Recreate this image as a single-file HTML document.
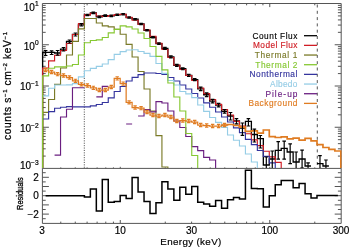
<!DOCTYPE html><html><head><meta charset="utf-8"><style>html,body{margin:0;padding:0;background:#fff;width:350px;height:250px;overflow:hidden}svg{display:block;will-change:transform}text{font-family:"Liberation Sans",sans-serif}</style></head><body>
<svg width="350" height="250" viewBox="0 0 350 250">
<rect width="350" height="250" fill="#fff"/>
<defs><clipPath id="cp"><rect x="41.9" y="3.5" width="299.8" height="164.5"/></clipPath>
<clipPath id="cr"><rect x="42.4" y="168.4" width="298.8" height="55.0"/></clipPath></defs>
<path d="M42.40 3.50 H341.20 V168.40 H42.40 Z M42.40 168.40 V223.40 H341.20 V168.40" fill="none" stroke="#555" stroke-width="1.00" stroke-linejoin="miter" stroke-linecap="butt" />
<path d="M60.78 3.50 v1.8 M60.78 168.40 v-1.0 M60.78 223.40 v-1.8 M75.27 3.50 v1.8 M75.27 168.40 v-1.0 M75.27 223.40 v-1.8 M87.10 3.50 v1.8 M87.10 168.40 v-1.0 M87.10 223.40 v-1.8 M97.11 3.50 v1.8 M97.11 168.40 v-1.0 M97.11 223.40 v-1.8 M105.78 3.50 v1.8 M105.78 168.40 v-1.0 M105.78 223.40 v-1.8 M113.43 3.50 v1.8 M113.43 168.40 v-1.0 M113.43 223.40 v-1.8 M120.27 3.50 v3.6 M120.27 168.40 v-1.6 M120.27 223.40 v-3.4 M165.27 3.50 v1.8 M165.27 168.40 v-1.0 M165.27 223.40 v-1.8 M191.60 3.50 v1.8 M191.60 168.40 v-1.0 M191.60 223.40 v-1.8 M210.28 3.50 v1.8 M210.28 168.40 v-1.0 M210.28 223.40 v-1.8 M224.77 3.50 v1.8 M224.77 168.40 v-1.0 M224.77 223.40 v-1.8 M236.60 3.50 v1.8 M236.60 168.40 v-1.0 M236.60 223.40 v-1.8 M246.61 3.50 v1.8 M246.61 168.40 v-1.0 M246.61 223.40 v-1.8 M255.28 3.50 v1.8 M255.28 168.40 v-1.0 M255.28 223.40 v-1.8 M262.93 3.50 v1.8 M262.93 168.40 v-1.0 M262.93 223.40 v-1.8 M269.77 3.50 v3.6 M269.77 168.40 v-1.6 M269.77 223.40 v-3.4 M314.77 3.50 v1.8 M314.77 168.40 v-1.0 M314.77 223.40 v-1.8 M42.40 156.08 h3.3 M341.20 156.08 h-3.3 M42.40 148.82 h3.3 M341.20 148.82 h-3.3 M42.40 143.67 h3.3 M341.20 143.67 h-3.3 M42.40 139.67 h3.3 M341.20 139.67 h-3.3 M42.40 136.40 h3.3 M341.20 136.40 h-3.3 M42.40 133.64 h3.3 M341.20 133.64 h-3.3 M42.40 131.25 h3.3 M341.20 131.25 h-3.3 M42.40 129.14 h3.3 M341.20 129.14 h-3.3 M42.40 127.25 h6.5 M341.20 127.25 h-6.5 M42.40 114.83 h3.3 M341.20 114.83 h-3.3 M42.40 107.57 h3.3 M341.20 107.57 h-3.3 M42.40 102.42 h3.3 M341.20 102.42 h-3.3 M42.40 98.42 h3.3 M341.20 98.42 h-3.3 M42.40 95.15 h3.3 M341.20 95.15 h-3.3 M42.40 92.39 h3.3 M341.20 92.39 h-3.3 M42.40 90.00 h3.3 M341.20 90.00 h-3.3 M42.40 87.89 h3.3 M341.20 87.89 h-3.3 M42.40 86.00 h6.5 M341.20 86.00 h-6.5 M42.40 73.58 h3.3 M341.20 73.58 h-3.3 M42.40 66.32 h3.3 M341.20 66.32 h-3.3 M42.40 61.17 h3.3 M341.20 61.17 h-3.3 M42.40 57.17 h3.3 M341.20 57.17 h-3.3 M42.40 53.90 h3.3 M341.20 53.90 h-3.3 M42.40 51.14 h3.3 M341.20 51.14 h-3.3 M42.40 48.75 h3.3 M341.20 48.75 h-3.3 M42.40 46.64 h3.3 M341.20 46.64 h-3.3 M42.40 44.75 h6.5 M341.20 44.75 h-6.5 M42.40 32.33 h3.3 M341.20 32.33 h-3.3 M42.40 25.07 h3.3 M341.20 25.07 h-3.3 M42.40 19.92 h3.3 M341.20 19.92 h-3.3 M42.40 15.92 h3.3 M341.20 15.92 h-3.3 M42.40 12.65 h3.3 M341.20 12.65 h-3.3 M42.40 9.89 h3.3 M341.20 9.89 h-3.3 M42.40 7.50 h3.3 M341.20 7.50 h-3.3 M42.40 5.39 h3.3 M341.20 5.39 h-3.3 M42.40 218.70 h3.3 M341.20 218.70 h-3.3 M42.40 214.10 h6.5 M341.20 214.10 h-6.5 M42.40 209.50 h3.3 M341.20 209.50 h-3.3 M42.40 204.90 h6.5 M341.20 204.90 h-6.5 M42.40 200.30 h3.3 M341.20 200.30 h-3.3 M42.40 195.70 h6.5 M341.20 195.70 h-6.5 M42.40 191.10 h3.3 M341.20 191.10 h-3.3 M42.40 186.50 h6.5 M341.20 186.50 h-6.5 M42.40 181.90 h3.3 M341.20 181.90 h-3.3 M42.40 177.30 h6.5 M341.20 177.30 h-6.5 M42.40 172.70 h3.3 M341.20 172.70 h-3.3 " fill="none" stroke="#555" stroke-width="1.00" stroke-linejoin="miter" stroke-linecap="butt" />
<g clip-path="url(#cp)">
<path d="M84.30 3.5 V168.4" fill="none" stroke="#555" stroke-width="1.00" stroke-linejoin="miter" stroke-linecap="butt" stroke-dasharray="1.1 1.3"/>
<path d="M317.29 4.5 V168.4" fill="none" stroke="#555" stroke-width="1.00" stroke-linejoin="miter" stroke-linecap="butt" stroke-dasharray="3 3.3"/>
<path d="M42.65 200.00 V52.40 H48.61 V52.40 H54.58 V53.00 H60.54 V49.20 H66.51 V41.40 H72.47 V34.40 H78.43 V24.80 H84.40 V14.97 H90.36 V12.84 H96.33 V16.83 H102.29 V15.61 H108.25 V15.85 H114.22 V14.82 H120.18 V14.29 H126.15 V17.56 H132.11 V19.21 H138.07 V23.99 H144.04 V30.32 H150.00 V37.27 H155.97 V43.58 H161.93 V48.29 H167.89 V56.92 H173.86 V65.40 H179.82 V68.76 H185.79 V75.38 H191.75 V79.71 H197.71 V88.92 H203.68 V94.76 H209.64 V101.10 H215.61 V105.08 H221.57 V111.37 H227.53 V116.00 H233.50 V120.80 H239.46 V128.00 H245.43 V121.40 H251.39 V134.50 H257.35 V138.70 H263.32 V165.00 H269.28 V159.00 H275.25 V150.40 H281.21 V148.40 H287.17 V152.00 H293.14 V162.00 H299.10 V159.00 H305.07 V166.00 H311.03" fill="none" stroke="#000000" stroke-width="1.30" stroke-linejoin="miter" stroke-linecap="butt" />
<path d="M316.99 163.70 H322.96 V166.00 H328.92" fill="none" stroke="#000000" stroke-width="1.30" stroke-linejoin="miter" stroke-linecap="butt" />
<path d="M42.65 200.00 V68.00 H48.61 V60.80 H54.58 V55.20 H60.54 V50.50 H66.51 V43.50 H72.47 V34.50 H78.43 V23.60 H84.40 V14.90 H90.36 V13.20 H96.33 V16.00 H102.29 V16.50 H108.25 V15.50 H114.22 V14.50 H120.18 V14.30 H126.15 V17.40 H132.11 V20.20 H138.07 V24.20 H144.04 V30.00 H150.00 V36.30 H155.97 V43.20 H161.93 V49.50 H167.89 V57.50 H173.86 V65.00 H179.82 V69.50 H185.79 V75.50 H191.75 V80.50 H197.71 V88.00 H203.68 V93.60 H209.64 V99.60 H215.61 V104.40 H221.57 V109.60 H227.53 V115.00 H233.50 V121.40 H239.46 V126.00 H245.43 V133.70 H251.39 V139.80 H257.35 V145.60 H263.32 V151.20 H269.28 V156.80 H275.25 V162.40 H281.21 V200.00 H287.17 V200.00 H293.14 V200.00 H299.10 V200.00 H305.07 V200.00 H311.03 V200.00 H316.99 V200.00 H322.96 V200.00 H328.92 V200.00 H334.89 V200.00 H340.85" fill="none" stroke="#d01c24" stroke-width="1.15" stroke-linejoin="miter" stroke-linecap="butt" />
<path d="M42.65 200.00 V112.30 H48.61 V99.50 H54.58 V84.30 H60.54 V68.00 H66.51 V55.00 H72.47 V41.40 H78.43 V28.80 H84.40 V18.50 H90.36 V18.50 H96.33 V23.00 H102.29 V25.80 H108.25 V26.80 H114.22 V29.40 H120.18 V34.20 H126.15 V44.40 H132.11 V57.00 H138.07 V71.50 H144.04 V89.00 H150.00 V111.00 H155.97 V135.60 H161.93 V167.00 H167.89 V200.00 H173.86 V200.00 H179.82 V200.00 H185.79 V200.00 H191.75 V200.00 H197.71 V200.00 H203.68 V200.00 H209.64 V200.00 H215.61 V200.00 H221.57 V200.00 H227.53 V200.00 H233.50 V200.00 H239.46 V200.00 H245.43 V200.00 H251.39 V200.00 H257.35 V200.00 H263.32 V200.00 H269.28 V200.00 H275.25 V200.00 H281.21 V200.00 H287.17 V200.00 H293.14 V200.00 H299.10 V200.00 H305.07 V200.00 H311.03 V200.00 H316.99 V200.00 H322.96 V200.00 H328.92 V200.00 H334.89 V200.00 H340.85" fill="none" stroke="#7a7a28" stroke-width="1.15" stroke-linejoin="miter" stroke-linecap="butt" />
<path d="M42.65 119.00 H48.61 V111.60 H54.58 V108.20 H60.54 V107.20 H66.51 V106.60 H72.47 V106.90 H78.43 V106.90 H84.40 V106.90 H90.36 V105.80 H96.33 V104.50 H102.29 V102.50 H108.25 V97.80 H114.22 V91.50 H120.18 V86.50 H126.15 V81.00 H132.11 V77.30 H138.07 V74.60 H144.04 V73.00 H150.00 V73.00 H155.97 V73.50 H161.93 V74.50 H167.89 V77.50 H173.86 V81.00 H179.82 V85.00 H185.79 V89.00 H191.75 V93.50 H197.71 V98.00 H203.68 V102.80 H209.64 V107.20 H215.61 V112.00 H221.57 V117.00 H227.53 V122.00 H233.50 V127.90 H239.46 V132.60 H245.43 V139.30 H251.39 V144.60 H257.35 V150.50 H263.32 V156.40 H269.28 V162.80 H275.25 V168.50 H281.21 V200.00 H287.17 V200.00 H293.14 V200.00 H299.10 V200.00 H305.07 V200.00 H311.03 V200.00 H316.99 V200.00 H322.96 V200.00 H328.92 V200.00 H334.89 V200.00 H340.85" fill="none" stroke="#34349e" stroke-width="1.15" stroke-linejoin="miter" stroke-linecap="butt" />
<path d="M42.65 95.90 H48.61 V88.20 H54.58 V85.00 H60.54 V85.00 H66.51 V84.80 H72.47 V83.60 H78.43 V76.80 H84.40 V70.70 H90.36 V68.30 H96.33 V66.30 H102.29 V64.00 H108.25 V59.60 H114.22 V54.30 H120.18 V51.60 H126.15 V50.00 H132.11 V49.70 H138.07 V51.50 H144.04 V53.30 H150.00 V56.30 H155.97 V63.50 H161.93 V73.30 H167.89 V80.50 H173.86 V85.00 H179.82 V91.50 H185.79 V93.80 H191.75 V97.60 H197.71 V105.00 H203.68 V111.30 H209.64 V117.50 H215.61 V122.40 H221.57 V127.40 H227.53 V135.00 H233.50 V140.20 H239.46 V146.00 H245.43 V154.00 H251.39 V162.00 H257.35 V200.00 H263.32 V200.00 H269.28 V200.00 H275.25 V200.00 H281.21 V200.00 H287.17 V200.00 H293.14 V200.00 H299.10 V200.00 H305.07 V200.00 H311.03 V200.00 H316.99 V200.00 H322.96 V200.00 H328.92 V200.00 H334.89 V200.00 H340.85" fill="none" stroke="#96cde6" stroke-width="1.15" stroke-linejoin="miter" stroke-linecap="butt" />
<path d="M54.58 155.10 H60.54 V117.00 H66.51 V109.20 H72.47 V87.70 H78.43 V87.70 H84.40" fill="none" stroke="#6a1e80" stroke-width="1.15" stroke-linejoin="miter" stroke-linecap="butt" />
<path d="M96.33 96.90 H102.29 V86.30 H108.25" fill="none" stroke="#6a1e80" stroke-width="1.15" stroke-linejoin="miter" stroke-linecap="butt" />
<path d="M126.15 124.00 H132.11" fill="none" stroke="#6a1e80" stroke-width="1.15" stroke-linejoin="miter" stroke-linecap="butt" />
<path d="M138.07 116.00 H144.04 V109.60 H150.00 V111.80 H155.97 V101.60 H161.93 V103.00 H167.89 V111.00 H173.86 V121.00 H179.82 V127.50 H185.79 V136.50 H191.75 V146.60 H197.71 V150.60 H203.68 V157.40 H209.64 V160.00 H215.61 V200.00 H221.57" fill="none" stroke="#6a1e80" stroke-width="1.15" stroke-linejoin="miter" stroke-linecap="butt" />
<path d="M42.65 200.00 V75.80 H48.61 V68.20 H54.58 V66.80 H60.54 V66.80 H66.51 V66.00 H72.47 V64.50 H78.43 V55.00 H84.40 V42.70 H90.36 V40.50 H96.33 V39.80 H102.29 V37.50 H108.25 V32.90 H114.22 V29.40 H120.18 V25.80 H126.15 V26.80 H132.11 V29.00 H138.07 V33.00 H144.04 V38.50 H150.00 V46.50 H155.97 V56.30 H161.93 V69.80 H167.89 V83.00 H173.86 V97.00 H179.82 V111.00 H185.79 V133.50 H191.75 V155.50 H197.71 V200.00 H203.68 V200.00 H209.64 V200.00 H215.61 V200.00 H221.57 V200.00 H227.53 V200.00 H233.50 V200.00 H239.46 V200.00 H245.43 V200.00 H251.39 V200.00 H257.35 V200.00 H263.32 V200.00 H269.28 V200.00 H275.25 V200.00 H281.21 V200.00 H287.17 V200.00 H293.14 V200.00 H299.10 V200.00 H305.07 V200.00 H311.03 V200.00 H316.99 V200.00 H322.96 V200.00 H328.92 V200.00 H334.89 V200.00 H340.85" fill="none" stroke="#86c832" stroke-width="1.15" stroke-linejoin="miter" stroke-linecap="butt" />
<path d="M42.65 70.00 H48.61 V72.00 H54.58 V74.10 H60.54 V75.50 H66.51 V77.50 H72.47 V80.80 H78.43 V84.30 H84.40 V85.50 H90.36 V87.90 H96.33 V90.00 H102.29 V90.00 H108.25 V87.00 H114.22 V78.40 H120.18 V83.60 H126.15 V102.30 H132.11 V107.50 H138.07 V108.20 H144.04 V112.00 H150.00 V115.00 H155.97 V116.00 H161.93 V115.00 H167.89 V117.00 H173.86 V121.00 H179.82 V120.50 H185.79 V121.00 H191.75 V122.00 H197.71 V125.00 H203.68 V125.50 H209.64 V126.00 H215.61 V126.00 H221.57 V125.00 H227.53" fill="none" stroke="#e07c22" stroke-width="1.25" stroke-linejoin="miter" stroke-linecap="butt" />
<path d="M221.57 125.00 H227.53 V124.50 H233.50 V125.50 H239.46 V127.20 H245.43 V131.40 H251.39 V130.90 H257.35 V133.10 H263.32 V130.00 H269.28 V136.60 H275.25 V137.50 H281.21 V136.80 H287.17 V138.90 H293.14 V138.20 H299.10 V140.20 H305.07 V138.40 H311.03 V140.80 H316.99 V144.60 H322.96 V147.50 H328.92 V149.30 H334.89 V151.00 H340.85 V200.0" fill="none" stroke="#e07c22" stroke-width="1.70" stroke-linejoin="miter" stroke-linecap="butt" />
<path d="M45.63 68.40 V71.60 M43.93 68.40 H47.33 M43.93 71.60 H47.33 M51.60 70.40 V73.60 M49.90 70.40 H53.30 M49.90 73.60 H53.30 M57.56 72.50 V75.70 M55.86 72.50 H59.26 M55.86 75.70 H59.26 M63.52 73.90 V77.10 M61.82 73.90 H65.22 M61.82 77.10 H65.22 M69.49 75.90 V79.10 M67.79 75.90 H71.19 M67.79 79.10 H71.19 M75.45 79.20 V82.40 M73.75 79.20 H77.15 M73.75 82.40 H77.15 M81.42 82.70 V85.90 M79.72 82.70 H83.12 M79.72 85.90 H83.12 M87.38 83.90 V87.10 M85.68 83.90 H89.08 M85.68 87.10 H89.08 M93.34 86.30 V89.50 M91.64 86.30 H95.04 M91.64 89.50 H95.04 M99.31 88.40 V91.60 M97.61 88.40 H101.01 M97.61 91.60 H101.01 M105.27 88.40 V91.60 M103.57 88.40 H106.97 M103.57 91.60 H106.97 M111.24 85.40 V88.60 M109.54 85.40 H112.94 M109.54 88.60 H112.94 M117.20 76.80 V80.00 M115.50 76.80 H118.90 M115.50 80.00 H118.90 M123.16 82.00 V85.20 M121.46 82.00 H124.86 M121.46 85.20 H124.86 M129.13 100.70 V103.90 M127.43 100.70 H130.83 M127.43 103.90 H130.83 M135.09 105.90 V109.10 M133.39 105.90 H136.79 M133.39 109.10 H136.79 M141.06 106.60 V109.80 M139.36 106.60 H142.76 M139.36 109.80 H142.76 M147.02 110.40 V113.60 M145.32 110.40 H148.72 M145.32 113.60 H148.72 M152.98 113.40 V116.60 M151.28 113.40 H154.68 M151.28 116.60 H154.68 M158.95 114.40 V117.60 M157.25 114.40 H160.65 M157.25 117.60 H160.65 M164.91 113.40 V116.60 M163.21 113.40 H166.61 M163.21 116.60 H166.61 M170.88 115.40 V118.60 M169.18 115.40 H172.58 M169.18 118.60 H172.58 M176.84 119.40 V122.60 M175.14 119.40 H178.54 M175.14 122.60 H178.54 M182.80 118.90 V122.10 M181.10 118.90 H184.50 M181.10 122.10 H184.50 M188.77 119.40 V122.60 M187.07 119.40 H190.47 M187.07 122.60 H190.47 M194.73 120.40 V123.60 M193.03 120.40 H196.43 M193.03 123.60 H196.43 M200.70 123.40 V126.60 M199.00 123.40 H202.40 M199.00 126.60 H202.40 M206.66 123.90 V127.10 M204.96 123.90 H208.36 M204.96 127.10 H208.36 M212.62 124.40 V127.60 M210.92 124.40 H214.32 M210.92 127.60 H214.32 M218.59 124.40 V127.60 M216.89 124.40 H220.29 M216.89 127.60 H220.29 M224.55 123.40 V126.60 M222.85 123.40 H226.25 M222.85 126.60 H226.25 " fill="none" stroke="#e07c22" stroke-width="1.10" stroke-linejoin="miter" stroke-linecap="butt" />
<path d="M45.63 50.50 V55.50 M43.83 50.50 H47.43 M43.83 55.50 H47.43 M51.60 50.80 V54.50 M49.80 50.80 H53.40 M49.80 54.50 H53.40 M57.56 50.50 V55.20 M55.76 50.50 H59.36 M55.76 55.20 H59.36 M63.52 47.50 V51.00 M61.72 47.50 H65.32 M61.72 51.00 H65.32 M69.49 40.00 V43.00 M67.69 40.00 H71.29 M67.69 43.00 H71.29 M75.45 33.00 V36.00 M73.65 33.00 H77.25 M73.65 36.00 H77.25 M81.42 23.50 V26.00 M79.62 23.50 H83.22 M79.62 26.00 H83.22 M87.38 14.27 V15.67 M85.58 14.27 H89.18 M85.58 15.67 H89.18 M93.34 12.14 V13.54 M91.54 12.14 H95.14 M91.54 13.54 H95.14 M99.31 16.13 V17.53 M97.51 16.13 H101.11 M97.51 17.53 H101.11 M105.27 14.91 V16.31 M103.47 14.91 H107.07 M103.47 16.31 H107.07 M111.24 15.15 V16.55 M109.44 15.15 H113.04 M109.44 16.55 H113.04 M117.20 14.12 V15.52 M115.40 14.12 H119.00 M115.40 15.52 H119.00 M123.16 13.59 V14.99 M121.36 13.59 H124.96 M121.36 14.99 H124.96 M129.13 16.86 V18.26 M127.33 16.86 H130.93 M127.33 18.26 H130.93 M135.09 18.51 V19.91 M133.29 18.51 H136.89 M133.29 19.91 H136.89 M141.06 23.29 V24.69 M139.26 23.29 H142.86 M139.26 24.69 H142.86 M147.02 29.62 V31.02 M145.22 29.62 H148.82 M145.22 31.02 H148.82 M152.98 36.57 V37.97 M151.18 36.57 H154.78 M151.18 37.97 H154.78 M158.95 42.88 V44.28 M157.15 42.88 H160.75 M157.15 44.28 H160.75 M164.91 47.29 V49.29 M163.11 47.29 H166.71 M163.11 49.29 H166.71 M170.88 55.92 V57.92 M169.08 55.92 H172.68 M169.08 57.92 H172.68 M176.84 64.40 V66.40 M175.04 64.40 H178.64 M175.04 66.40 H178.64 M182.80 67.76 V69.76 M181.00 67.76 H184.60 M181.00 69.76 H184.60 M188.77 74.38 V76.38 M186.97 74.38 H190.57 M186.97 76.38 H190.57 M194.73 78.71 V80.71 M192.93 78.71 H196.53 M192.93 80.71 H196.53 M200.70 87.12 V90.72 M198.90 87.12 H202.50 M198.90 90.72 H202.50 M206.66 92.96 V96.56 M204.86 92.96 H208.46 M204.86 96.56 H208.46 M212.62 99.30 V102.90 M210.82 99.30 H214.42 M210.82 102.90 H214.42 M218.59 103.28 V106.88 M216.79 103.28 H220.39 M216.79 106.88 H220.39 M224.55 109.57 V113.17 M222.75 109.57 H226.35 M222.75 113.17 H226.35 M230.52 112.50 V120.00 M228.72 112.50 H232.32 M228.72 120.00 H232.32 M236.48 118.60 V123.80 M234.68 118.60 H238.28 M234.68 123.80 H238.28 M242.44 123.00 V135.40 M240.64 123.00 H244.24 M240.64 135.40 H244.24 M248.41 118.60 V126.00 M246.61 118.60 H250.21 M246.61 126.00 H250.21 M254.37 129.20 V142.00 M252.57 129.20 H256.17 M252.57 142.00 H256.17 M260.34 135.50 V148.00 M258.54 135.50 H262.14 M258.54 148.00 H262.14 M266.30 157.00 V175.00 M264.50 157.00 H268.10 M264.50 175.00 H268.10 M272.26 151.00 V175.00 M270.46 151.00 H274.06 M270.46 175.00 H274.06 M278.23 141.60 V159.20 M276.43 141.60 H280.03 M276.43 159.20 H280.03 M284.19 141.20 V159.20 M282.39 141.20 H285.99 M282.39 159.20 H285.99 M290.16 143.90 V163.70 M288.36 143.90 H291.96 M288.36 163.70 H291.96 M296.12 152.00 V175.00 M294.32 152.00 H297.92 M294.32 175.00 H297.92 M302.08 150.20 V168.00 M300.28 150.20 H303.88 M300.28 168.00 H303.88 M308.05 162.80 V175.00 M306.25 162.80 H309.85 M306.25 175.00 H309.85 M319.98 155.60 V175.00 M318.18 155.60 H321.78 M318.18 175.00 H321.78 M325.94 160.00 V175.00 M324.14 160.00 H327.74 M324.14 175.00 H327.74 " fill="none" stroke="#000000" stroke-width="1.20" stroke-linejoin="miter" stroke-linecap="butt" />
</g>
<g clip-path="url(#cr)">
<path d="M45.63 195.70 H48.61 V195.70 H54.58 V195.70 H60.54 V195.70 H66.51 V195.70 H72.47 V195.70 H78.43 V195.70 H84.40 V197.00 H90.36 V189.00 H96.33 V211.00 H102.29 V179.40 H108.25 V202.20 H114.22 V201.50 H120.18 V195.50 H126.15 V198.60 H132.11 V177.50 H138.07 V191.90 H144.04 V201.50 H150.00 V213.50 H155.97 V202.70 H161.93 V181.80 H167.89 V189.00 H173.86 V200.30 H179.82 V187.20 H185.79 V194.30 H191.75 V186.60 H197.71 V202.20 H203.68 V203.90 H209.64 V206.30 H215.61 V200.50 H221.57 V208.20 H227.53 V199.80 H233.50 V197.40 H239.46 V199.00 H245.43 V170.30 H251.39 V188.50 H257.35 V188.70 H263.32 V207.00 H269.28 V195.70 H275.25 V184.70 H281.21 V180.60 H287.17 V180.60 H293.14 V187.80 H299.10 V183.50 H305.07 V193.80 H311.03 V198.10 H316.99 V195.60 H322.96 V195.60 H328.92 V195.60 H334.89 V195.60 H337.87" fill="none" stroke="#000" stroke-width="1.50" stroke-linejoin="miter" stroke-linecap="butt" />
</g>
<text x="42.1" y="234.2" font-size="10.00" text-anchor="middle" fill="#000"  stroke="#000" stroke-width="0.18">3</text>
<text x="120.3" y="234.2" font-size="10.00" text-anchor="middle" fill="#000"  stroke="#000" stroke-width="0.18">10</text>
<text x="191.6" y="234.2" font-size="10.00" text-anchor="middle" fill="#000"  stroke="#000" stroke-width="0.18">30</text>
<text x="269.8" y="234.2" font-size="10.00" text-anchor="middle" fill="#000"  stroke="#000" stroke-width="0.18">100</text>
<text x="341.1" y="234.2" font-size="10.00" text-anchor="middle" fill="#000"  stroke="#000" stroke-width="0.18">300</text>
<text x="190.8" y="245.4" font-size="9.80" text-anchor="middle" fill="#000" textLength="61" lengthAdjust="spacing" stroke="#000" stroke-width="0.18">Energy (keV)</text>
<text x="38.6" y="10.6" font-size="10" text-anchor="end" fill="#000" stroke="#000" stroke-width="0.2">10<tspan font-size="6.6" dy="-4.4">1</tspan></text>
<text x="38.6" y="49.5" font-size="10" text-anchor="end" fill="#000" stroke="#000" stroke-width="0.2">10<tspan font-size="6.6" dy="-4.4">0</tspan></text>
<text x="38.6" y="90.1" font-size="10" text-anchor="end" fill="#000" stroke="#000" stroke-width="0.2">10<tspan font-size="6.6" dy="-4.4">&#8722;1</tspan></text>
<text x="38.6" y="132.0" font-size="10" text-anchor="end" fill="#000" stroke="#000" stroke-width="0.2">10<tspan font-size="6.6" dy="-4.4">&#8722;2</tspan></text>
<text x="38.6" y="169.2" font-size="10" text-anchor="end" fill="#000" stroke="#000" stroke-width="0.2">10<tspan font-size="6.6" dy="-4.4">&#8722;3</tspan></text>
<text x="38.8" y="180.9" font-size="10.00" text-anchor="end" fill="#000"  stroke="#000" stroke-width="0.18">2</text>
<text x="38.8" y="199.3" font-size="10.00" text-anchor="end" fill="#000"  stroke="#000" stroke-width="0.18">0</text>
<text x="38.8" y="217.7" font-size="10.00" text-anchor="end" fill="#000"  stroke="#000" stroke-width="0.18">&#8722;2</text>
<text transform="translate(10.6,86) rotate(-90)" font-size="10.2" text-anchor="middle" textLength="108" lengthAdjust="spacing" fill="#000" stroke="#000" stroke-width="0.25">counts s<tspan font-size="6" dy="-3.4">&#8722;1</tspan><tspan dy="3.4"> cm</tspan><tspan font-size="6" dy="-3.4">&#8722;2</tspan><tspan dy="3.4"> keV</tspan><tspan font-size="6" dy="-3.4">&#8722;1</tspan></text>
<text transform="translate(22.8,193.6) rotate(-90)" font-size="9" text-anchor="middle" textLength="32.6" lengthAdjust="spacingAndGlyphs" fill="#000" stroke="#000" stroke-width="0.3">Residuals</text>
<text x="252.4" y="38.7" font-size="8.30" text-anchor="start" fill="#000000" textLength="45.0" lengthAdjust="spacing" stroke="#000000" stroke-width="0.15">Count Flux</text>
<path d="M304 35.70 H317" fill="none" stroke="#000000" stroke-width="1.30" stroke-linejoin="miter" stroke-linecap="butt" />
<text x="253.0" y="48.4" font-size="8.30" text-anchor="start" fill="#d01c24" textLength="44.4" lengthAdjust="spacing" stroke="#d01c24" stroke-width="0.15">Model Flux</text>
<path d="M304 45.37 H317" fill="none" stroke="#d01c24" stroke-width="1.30" stroke-linejoin="miter" stroke-linecap="butt" />
<text x="254.8" y="58.0" font-size="8.30" text-anchor="start" fill="#7a7a28" textLength="42.6" lengthAdjust="spacing" stroke="#7a7a28" stroke-width="0.15">Thermal 1</text>
<path d="M304 55.04 H317" fill="none" stroke="#7a7a28" stroke-width="1.30" stroke-linejoin="miter" stroke-linecap="butt" />
<text x="255.2" y="67.7" font-size="8.30" text-anchor="start" fill="#86c832" textLength="42.2" lengthAdjust="spacing" stroke="#86c832" stroke-width="0.15">Thermal 2</text>
<path d="M304 64.71 H317" fill="none" stroke="#86c832" stroke-width="1.30" stroke-linejoin="miter" stroke-linecap="butt" />
<text x="249.4" y="77.4" font-size="8.30" text-anchor="start" fill="#34349e" textLength="48.0" lengthAdjust="spacing" stroke="#34349e" stroke-width="0.15">Nonthermal</text>
<path d="M304 74.38 H317" fill="none" stroke="#34349e" stroke-width="1.30" stroke-linejoin="miter" stroke-linecap="butt" />
<text x="270.1" y="87.1" font-size="8.30" text-anchor="start" fill="#96cde6" textLength="27.3" lengthAdjust="spacing" stroke="#96cde6" stroke-width="0.15">Albedo</text>
<path d="M304 84.05 H317" fill="none" stroke="#96cde6" stroke-width="1.30" stroke-linejoin="miter" stroke-linecap="butt" />
<text x="265.4" y="96.7" font-size="8.30" text-anchor="start" fill="#6a1e80" textLength="32.0" lengthAdjust="spacing" stroke="#6a1e80" stroke-width="0.15">Pile-up</text>
<path d="M304 93.72 H317" fill="none" stroke="#6a1e80" stroke-width="1.30" stroke-linejoin="miter" stroke-linecap="butt" />
<text x="248.4" y="106.4" font-size="8.30" text-anchor="start" fill="#e07c22" textLength="49.0" lengthAdjust="spacing" stroke="#e07c22" stroke-width="0.15">Background</text>
<path d="M304 103.39 H317" fill="none" stroke="#e07c22" stroke-width="1.30" stroke-linejoin="miter" stroke-linecap="butt" />
</svg></body></html>
